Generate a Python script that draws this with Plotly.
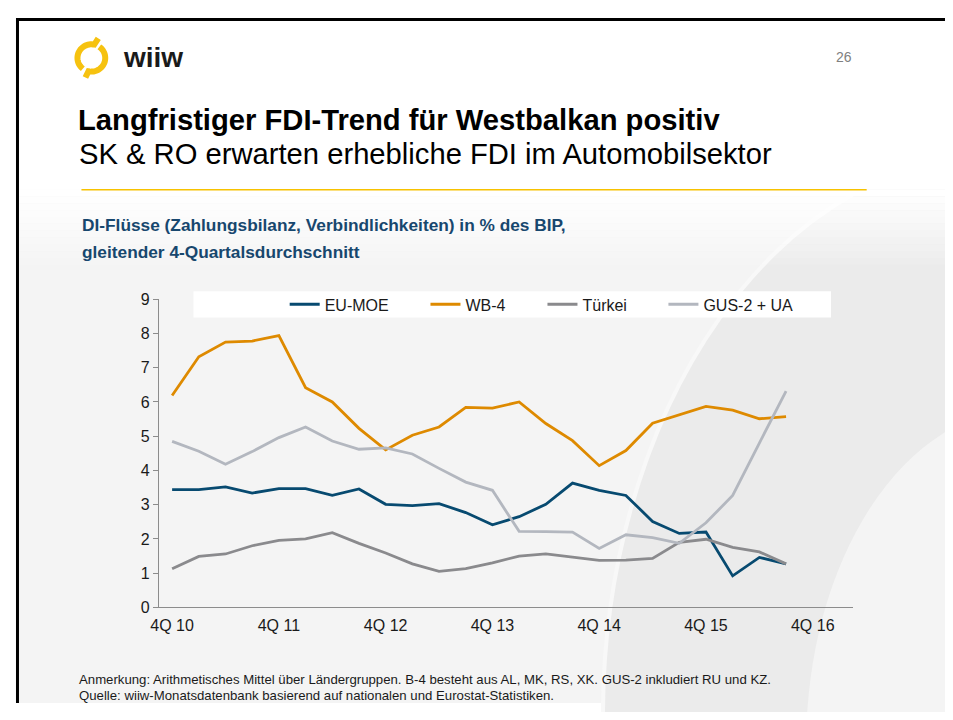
import numpy as np
import plotly.graph_objects as go

# page is 953x720; the html body keeps its default 8px margin, so the figure
# itself is 16px smaller and all positions below are given in page pixels
PAGE_W, PAGE_H, BODY = 953, 720, 8
W, H = PAGE_W - 2 * BODY, PAGE_H - 2 * BODY

quarters = ['4Q 10', '1Q 11', '2Q 11', '3Q 11', '4Q 11', '1Q 12', '2Q 12', '3Q 12', '4Q 12',
            '1Q 13', '2Q 13', '3Q 13', '4Q 13', '1Q 14', '2Q 14', '3Q 14', '4Q 14',
            '1Q 15', '2Q 15', '3Q 15', '4Q 15', '1Q 16', '2Q 16', '3Q 16', '4Q 16', '1Q 17']

eu_moe = [3.44, 3.44, 3.52, 3.34, 3.47, 3.47, 3.27, 3.46, 3.01, 2.97, 3.03, 2.77,
          2.41, 2.65, 3.01, 3.63, 3.42, 3.27, 2.51, 2.16, 2.20, 0.92, 1.46, 1.27]
wb4 = [6.19, 7.32, 7.75, 7.78, 7.94, 6.42, 6.00, 5.23, 4.60, 5.03, 5.27, 5.84,
       5.82, 6.00, 5.37, 4.87, 4.14, 4.58, 5.38, 5.63, 5.87, 5.76, 5.51, 5.57]
tuerkei = [1.13, 1.49, 1.56, 1.80, 1.96, 2.00, 2.18, 1.87, 1.59, 1.27, 1.05, 1.13,
           1.30, 1.50, 1.56, 1.47, 1.37, 1.38, 1.43, 1.90, 1.99, 1.75, 1.62, 1.27]
gus = [4.85, 4.56, 4.18, 4.55, 4.96, 5.27, 4.86, 4.62, 4.66, 4.48, 4.06, 3.66,
       3.42, 2.22, 2.21, 2.20, 1.72, 2.12, 2.04, 1.87, 2.47, 3.27, 4.80, 6.32]

series = [('EU-MOE', eu_moe, '#074a70'),
          ('WB-4', wb4, '#de8a00'),
          ('Türkei', tuerkei, '#8a8a8d'),
          ('GUS-2 + UA', gus, '#b3b7bf')]

y_ticks = list(range(0, 10))
x_ticks = quarters[::4]

FONT = 'Liberation Sans, Arial, sans-serif'
LEGEND_X = [285, 427, 545, 667]   # page x where each legend sample line starts


def px(x):
    return (x - BODY) / W


def py(y):
    return 1 - (y - BODY) / H


fig = go.Figure()
legends = {}
for i, (name, vals, col) in enumerate(series):
    key = 'legend' if i == 0 else f'legend{i + 1}'
    fig.add_trace(go.Scatter(
        x=quarters[:len(vals)], y=vals, name=name, mode='lines',
        line=dict(color=col, width=2.8), legend=key, showlegend=True,
    ))
    legends[key] = dict(orientation='h', x=px(LEGEND_X[i] - 6), y=py(303.5),
                        xanchor='left', yanchor='middle', bgcolor='rgba(0,0,0,0)',
                        font=dict(size=16, color='#1a1a1a', family=FONT), itemwidth=30)

shapes = []
# slide background
shapes.append(dict(type='rect', xref='paper', yref='paper', layer='below',
                   x0=0, x1=1, y0=0, y1=py(186),
                   fillcolor='#f4f4f4', line=dict(width=0)))
shapes.append(dict(type='circle', xref='paper', yref='paper', layer='below',
                   x0=px(600), x1=px(1400), y0=py(1300), y1=py(150),
                   fillcolor='#ebebeb', line=dict(color='#f8f8f8', width=4)))
shapes.append(dict(type='circle', xref='paper', yref='paper', layer='below',
                   x0=px(805), x1=px(1250), y0=py(1100), y1=py(410),
                   fillcolor='#f4f4f4', line=dict(width=0)))
shapes.append(dict(type='rect', xref='paper', yref='paper', layer='below',
                   x0=0, x1=1, y0=py(186), y1=1,
                   fillcolor='white', line=dict(width=0)))
# fade to white under the header line
n = 12
for i in range(n):
    y0 = 186 + i * 7
    shapes.append(dict(type='rect', xref='paper', yref='paper', layer='below',
                       x0=0, x1=1, y0=py(y0 + 7), y1=py(y0),
                       fillcolor='white', opacity=1 - (i + 0.5) / n,
                       line=dict(width=0)))
# legend box
shapes.append(dict(type='rect', xref='paper', yref='paper', layer='below',
                   x0=px(187), x1=px(830), y0=py(317), y1=py(290),
                   fillcolor='white', line=dict(width=0)))
# header rule and slide frame
shapes.append(dict(type='line', xref='paper', yref='paper',
                   x0=px(74), x1=px(866), y0=py(186), y1=py(186),
                   line=dict(color='#f7c200', width=1.5)))
shapes.append(dict(type='line', xref='paper', yref='paper',
                   x0=0, x1=1, y0=py(11.5), y1=py(11.5),
                   line=dict(color='black', width=3)))
shapes.append(dict(type='line', xref='paper', yref='paper',
                   x0=px(9.5), x1=px(9.5), y0=py(10), y1=0,
                   line=dict(color='black', width=3)))


# logo: two broken ring arcs
def arc_path(cx, cy, r, a0, a1, tail=None):
    t = np.radians(np.linspace(a0, a1, 30))
    xs = cx + r * np.cos(t)
    ys = cy - r * np.sin(t)
    pts = list(zip(xs, ys))
    if tail:
        pts = [tail] + pts
    return 'M ' + ' L '.join(f'{px(x):.5f},{py(y):.5f}' for x, y in pts)


shapes.append(dict(type='path', xref='paper', yref='paper',
                   path=arc_path(84, 51, 14, 78, 232, tail=(91, 31)),
                   line=dict(color='#f6c20f', width=6)))
shapes.append(dict(type='path', xref='paper', yref='paper',
                   path=arc_path(84, 51, 14, 55, -102) + f' L {px(78):.5f},{py(71):.5f}',
                   line=dict(color='#f6c20f', width=6)))

ann = [
    dict(text='wiiw', x=px(114), y=py(51), xanchor='left', yanchor='middle',
         font=dict(size=28, color='#1a1a1a', family=FONT, weight='bold')),
    dict(text='26', x=px(843), y=py(50), xanchor='center', yanchor='middle',
         font=dict(size=14, color='#808080', family=FONT)),
    dict(text='<b>Langfristiger FDI-Trend für Westbalkan positiv</b>', x=px(69), y=py(115),
         xanchor='left', yanchor='middle', font=dict(size=29.2, color='black', family=FONT)),
    dict(text='SK &amp; RO erwarten erhebliche FDI im Automobilsektor', x=px(70), y=py(149),
         xanchor='left', yanchor='middle', font=dict(size=29.2, color='black', family=FONT)),
    dict(text='<b>DI-Flüsse (Zahlungsbilanz, Verbindlichkeiten) in % des BIP,</b>',
         x=px(73), y=py(222), xanchor='left', yanchor='middle',
         font=dict(size=17.3, color='#17476e', family=FONT)),
    dict(text='<b>gleitender 4-Quartalsdurchschnitt</b>',
         x=px(73), y=py(250), xanchor='left', yanchor='middle',
         font=dict(size=17.3, color='#17476e', family=FONT)),
    dict(text='Anmerkung: Arithmetisches Mittel über Ländergruppen. B-4 besteht aus AL, MK, RS, XK. '
              'GUS-2 inkludiert RU und KZ.',
         x=px(70), y=py(688), xanchor='left', yanchor='middle',
         font=dict(size=13.2, color='#1a1a1a', family=FONT)),
    dict(text='Quelle: wiiw-Monatsdatenbank basierend auf nationalen und Eurostat-Statistiken.',
         x=px(70), y=py(704), xanchor='left', yanchor='middle',
         font=dict(size=13.2, color='#1a1a1a', family=FONT)),
]
for a in ann:
    a.update(xref='paper', yref='paper', showarrow=False)

fig.update_layout(
    width=W, height=H,
    margin=dict(l=0, r=0, t=0, b=0),
    paper_bgcolor='white', plot_bgcolor='rgba(0,0,0,0)',
    font=dict(family=FONT, color='#1a1a1a', size=16),
    showlegend=True,
    shapes=shapes, annotations=ann,
    xaxis=dict(domain=[px(152), px(852)], type='category', categoryarray=quarters,
               categoryorder='array', range=[-0.5, len(quarters) - 0.5],
               tickmode='array', tickvals=x_ticks, ticktext=x_ticks,
               showgrid=False, zeroline=False, showline=True, linecolor='#8c8c8c',
               linewidth=1, ticks='outside', ticklen=3, tickcolor='rgba(0,0,0,0)',
               tickfont=dict(size=16)),
    yaxis=dict(domain=[py(614), py(298.3)], range=[0, 9], tickvals=y_ticks,
               showgrid=False, zeroline=False, showline=True, linecolor='#8c8c8c',
               linewidth=1, ticks='outside', ticklen=5, tickcolor='#8c8c8c',
               tickfont=dict(size=16)),
    **legends,
)

fig.write_html('out.html', config={'displayModeBar': False})
